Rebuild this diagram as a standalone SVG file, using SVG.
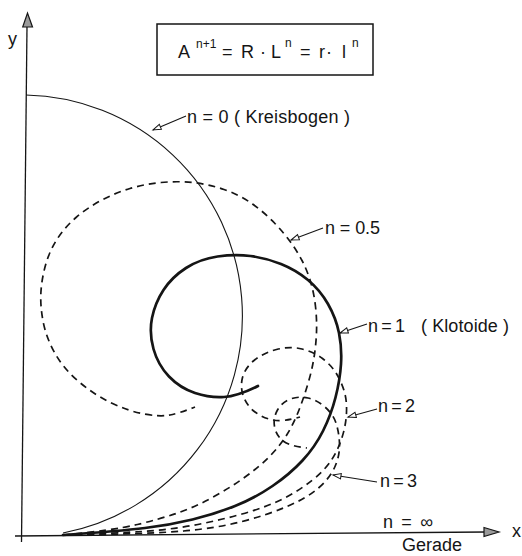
<svg xmlns="http://www.w3.org/2000/svg" width="522" height="556" viewBox="0 0 522 556">
<style>
text{font-family:"Liberation Sans",Arial,sans-serif;fill:#151515}
.lbl{font-size:18px}
.ax{stroke:#151515;stroke-width:1.3;fill:none}
.thin{stroke:#151515;stroke-width:1.1;fill:none}
.thick{stroke:#151515;stroke-width:2.7;fill:none;stroke-linecap:round}
.dash{stroke:#151515;stroke-width:1.7;fill:none;stroke-dasharray:7 5}
.lead{stroke:#151515;stroke-width:1.1;fill:none;marker-end:url(#la)}
</style>
<defs>
<marker id="la" markerWidth="12" markerHeight="10" refX="9" refY="4" orient="auto" markerUnits="userSpaceOnUse"><path d="M1,1.3 L9,4 L1,6.7 Z" fill="#fff" stroke="#151515" stroke-width="1"/></marker>
</defs>
<rect width="522" height="556" fill="#fff"/>
<g id="axes">
<line class="ax" x1="27" y1="26" x2="21.5" y2="542"/>
<polygon points="22.7,27 27.5,13 32.5,27" fill="#9a9a9a" stroke="#151515" stroke-width="1.2"/>
<line class="ax" x1="15" y1="536" x2="486" y2="532"/>
<polygon points="484,527.5 499,532 484,536.5" fill="#9a9a9a" stroke="#151515" stroke-width="1.2"/>
<text class="lbl" x="8" y="45">y</text>
<text class="lbl" x="512" y="537">x</text>
</g>
<g id="formula">
<rect x="157" y="24" width="216" height="51" fill="#fff" stroke="#151515" stroke-width="1.5"/>
<text style="font-size:18px" y="58"><tspan x="178">A</tspan><tspan x="196" y="48" style="font-size:12px">n+1</tspan><tspan x="222" y="58">=</tspan><tspan x="241">R</tspan><tspan x="260">·</tspan><tspan x="271">L</tspan><tspan x="285" y="47" style="font-size:12px">n</tspan><tspan x="300" y="58">=</tspan><tspan x="319">r</tspan><tspan x="326">·</tspan><tspan x="342">l</tspan><tspan x="352" y="47" style="font-size:12px">n</tspan></text>
</g>
<g id="curves">
<path id="n0" class="thin" d="M26,95 A221,221 0 0 1 63,533"/>
<path id="n05" class="dash" d="M63,535 Q115,530 137.5,524.5 Q160,519 177.5,513 Q195,507 211.5,498 Q228,489 243,478.5 Q258,468 269,457 Q280,446 287,434.5 Q294,423 299,410 Q304,397 308,383.5 Q312,370 314,357.5 Q316,345 316.5,332.5 Q317,320 315.5,306.5 Q314,293 310.5,281.5 Q307,270 302,260.5 Q297,251 290.5,242 Q284,233 274.5,223 Q265,213 252.5,204 Q240,195 224,189.5 Q208,184 192.5,182.5 Q177,181 161,182.5 Q145,184 130,188.5 Q115,193 101,200.5 Q87,208 76,217.5 Q65,227 57.5,238.5 Q50,250 46,263.5 Q42,277 41,291 Q40,305 43,321 Q46,337 54.5,352.5 Q63,368 78,381 Q93,394 110.5,402.5 Q128,411 144,414 Q160,417 170,415 Q180,413 195,407"/>
<path id="n1" class="thick" d="M63,535 Q120,531 145,528 Q170,525 192.5,519.5 Q215,514 235,506 Q255,498 272.5,486 Q290,474 302.5,460.5 Q315,447 323,431 Q331,415 335.5,397.5 Q340,380 341,364 Q342,348 339,333 Q336,318 328,304 Q320,290 308,280 Q296,270 281,264 Q266,258 250.5,256 Q235,254 217.5,256.5 Q200,259 186,268 Q172,277 163.5,290 Q155,303 152,318 Q149,333 153.5,349 Q158,365 169,376.5 Q180,388 195,393 Q210,398 224,397 Q238,396 258,386"/>
<path id="n2" class="dash" d="M63,535 Q117,533 142,531.5 Q167,530 192,525.5 Q217,521 242,514 Q267,507 283.5,498.5 Q300,490 312.5,480 Q325,470 331.5,460 Q338,450 342,437.5 Q346,425 346.5,412.5 Q347,400 344,390.5 Q341,381 336,373 Q331,365 322.5,358.5 Q314,352 302,349 Q290,346 276.5,349.5 Q263,353 254,360.5 Q245,368 242.5,377.5 Q240,387 243.5,396.5 Q247,406 255,412 Q263,418 273,420 Q283,422 300,417"/>
<path id="n3" class="dash" d="M63,535 Q150,534 183.5,531 Q217,528 242,521.5 Q267,515 287,506.5 Q307,498 318.5,488 Q330,478 335,466.5 Q340,455 339.5,443.5 Q339,432 336,423 Q333,414 325,407 Q317,400 308,398 Q299,396 290.5,399 Q282,402 277.5,410 Q273,418 274.5,426.5 Q276,435 282.5,440.5 Q289,446 307,448"/>
</g>
<g id="connectors">
<line class="lead" x1="186" y1="116" x2="153" y2="130"/>
<line class="lead" x1="323" y1="228" x2="291" y2="240"/>
<line class="lead" x1="367" y1="324" x2="340" y2="333"/>
<line class="lead" x1="377" y1="409" x2="348" y2="417"/>
<line class="lead" x1="377" y1="482" x2="333" y2="475"/>
</g>
<g id="labels">
<text class="lbl" x="187" y="123" textLength="163">n = 0 ( Kreisbogen )</text>
<text class="lbl" x="325" y="234" textLength="55">n = 0.5</text>
<text class="lbl" x="368" y="332" textLength="37">n = 1</text>
<text class="lbl" x="421" y="332" textLength="88">( Klotoide )</text>
<text class="lbl" x="378" y="412" textLength="37">n = 2</text>
<text class="lbl" x="380" y="487" textLength="37">n = 3</text>
<text class="lbl" x="383" y="528" textLength="50">n = ∞</text>
<text class="lbl" x="402" y="551" textLength="60">Gerade</text>
</g>
</svg>
